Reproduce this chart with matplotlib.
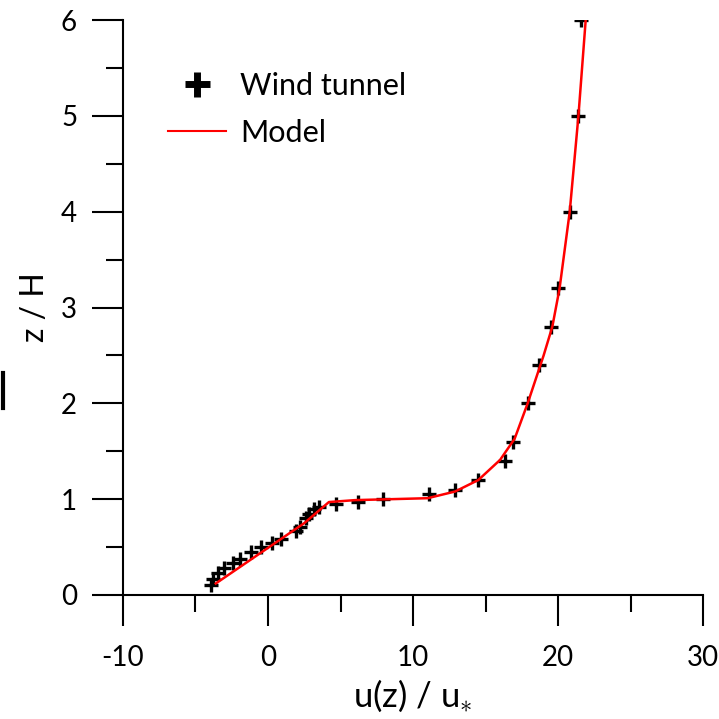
import matplotlib
matplotlib.use('Agg')
import matplotlib.pyplot as plt
from matplotlib.lines import Line2D

plt.rcParams['font.family'] = ['Lato', 'DejaVu Sans']
plt.rcParams['mathtext.fontset'] = 'custom'
plt.rcParams['mathtext.rm'] = 'Lato'
plt.rcParams['mathtext.it'] = 'Lato'
plt.rcParams['axes.unicode_minus'] = False

# wind tunnel measurements
tunnel_u = [-3.93, -3.8, -3.47, -3.0, -2.4, -1.9, -1.17, -0.48, 0.3, 0.9, 1.93, 2.2,
            2.6, 2.85, 3.2, 3.5, 4.7, 6.2, 7.9, 11.1, 12.9, 14.45, 16.35, 16.9,
            17.9, 18.7, 19.5, 20.0, 20.8, 21.4, 21.55]
tunnel_z = [0.10, 0.17, 0.23, 0.28, 0.33, 0.38, 0.45, 0.50, 0.54, 0.58, 0.67, 0.71,
            0.80, 0.85, 0.90, 0.92, 0.95, 0.97, 1.00, 1.05, 1.10, 1.20, 1.40, 1.60,
            2.0, 2.4, 2.8, 3.2, 4.0, 5.0, 6.0]

# model profile
model_u = [-3.6, 2.5, 4.2, 6.0, 8.5, 11.0, 12.9, 14.5, 16.0, 17.0, 17.9, 19.0,
           19.6, 20.1, 20.8, 21.4, 21.9]
model_z = [0.12, 0.75, 0.97, 0.99, 1.0, 1.01, 1.08, 1.2, 1.41, 1.63, 2.0, 2.5,
           2.8, 3.2, 4.0, 5.0, 6.0]

fig = plt.figure(figsize=(7.19, 7.19), dpi=100)
ax = fig.add_axes([0.171, 0.1725, 0.807, 0.7995])

ax.plot(tunnel_u, tunnel_z, ls='none', marker='+', color='black',
        markersize=10, markeredgewidth=2.4)
ax.plot(model_u, model_z, color='red', lw=1.8)

ax.set_xlim(-10, 30)
ax.set_ylim(0, 6)
ax.set_xticks([-10, 0, 10, 20, 30])
ax.set_xticks([-5, 5, 15, 25], minor=True)
ax.set_yticks(range(7))
ax.set_yticks([0.5, 1.5, 2.5, 3.5, 4.5, 5.5], minor=True)

for s in ['top', 'right']:
    ax.spines[s].set_visible(False)
for s in ['left', 'bottom']:
    ax.spines[s].set_linewidth(1.5)

ax.tick_params(which='major', direction='out', length=22, width=1.5, labelsize=20)
ax.tick_params(which='minor', direction='out', length=12, width=1.5)
ax.tick_params(axis='y', pad=11)
ax.tick_params(axis='x', pad=14)

ax.set_xlabel('u(z) / u$_{\\ast}$', fontsize=25, labelpad=5)
ax.set_ylabel('z / H', fontsize=23, labelpad=8)

handles = [Line2D([], [], ls='none', marker='+', color='black', markersize=18,
                  markeredgewidth=5),
           Line2D([], [], color='red', lw=1.5)]
ax.legend(handles, ['Wind tunnel', 'Model'], loc='upper left', frameon=False,
          bbox_to_anchor=(168 / 719, 1 - 72 / 719), bbox_transform=fig.transFigure,
          borderpad=0, borderaxespad=0, handlelength=1.9, handletextpad=0.45,
          labelspacing=0.62, fontsize=22)

# stray mark at the left edge
fig.add_artist(Line2D([2.5 / 719, 2.5 / 719], [1 - 373 / 719, 1 - 408 / 719],
                      color='black', lw=3))

fig.savefig('out.png', dpi=100)
